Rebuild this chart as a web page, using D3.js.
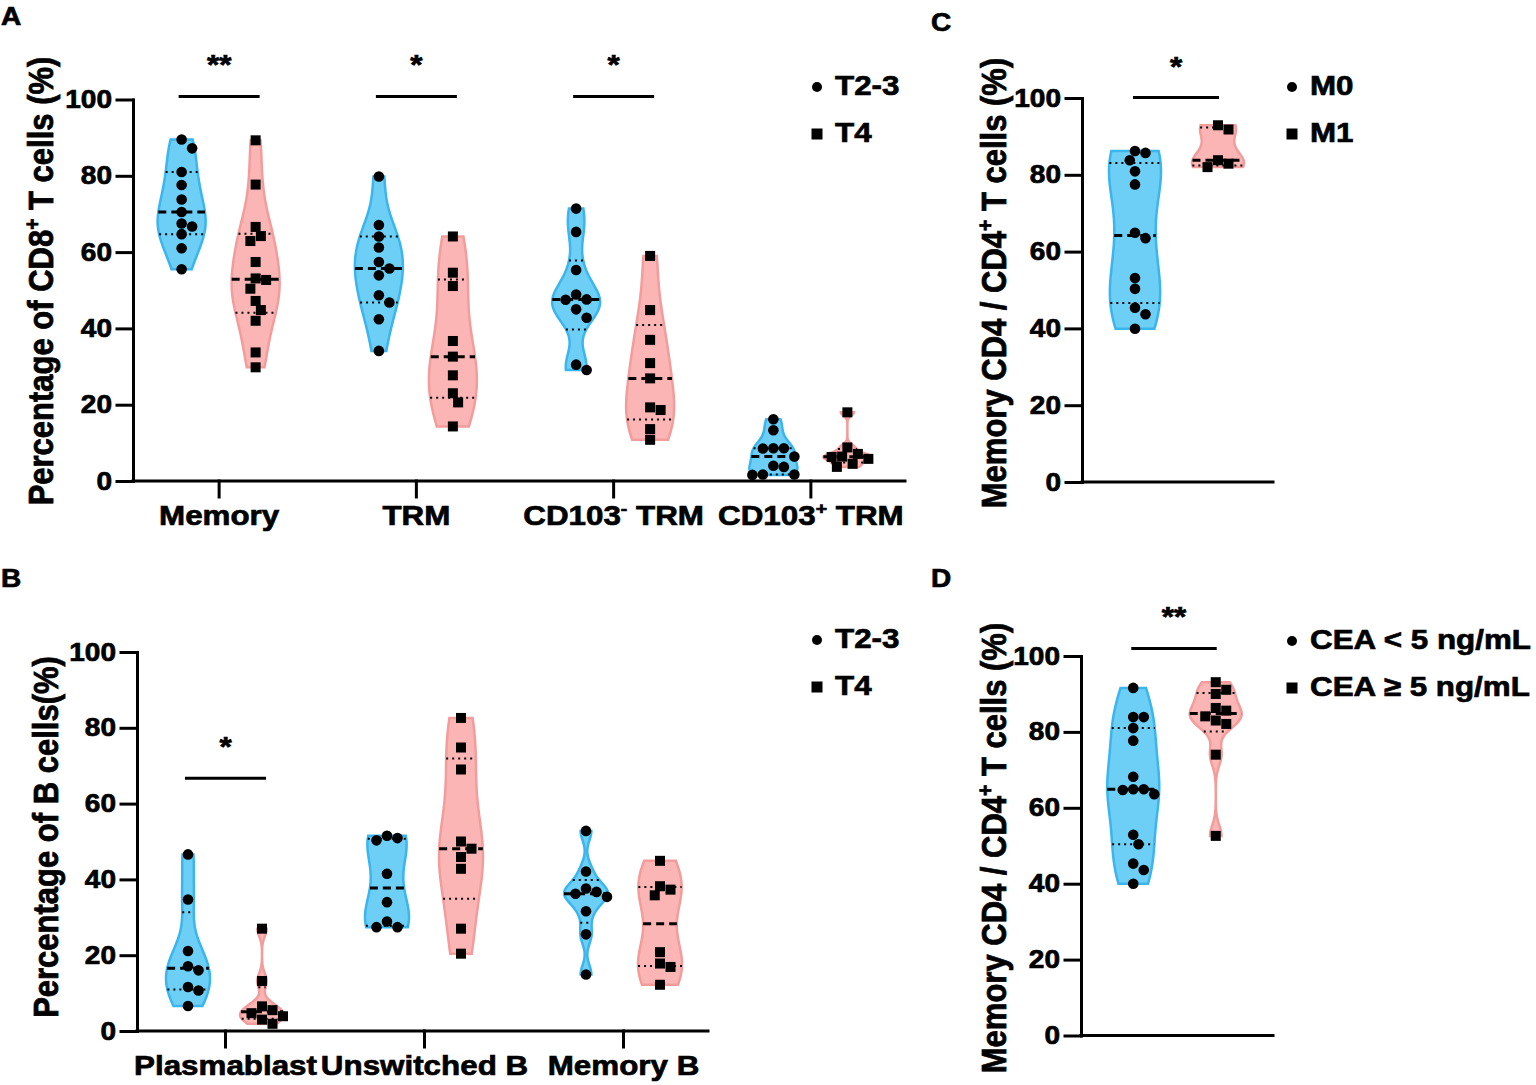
<!DOCTYPE html>
<html>
<head>
<meta charset="utf-8">
<script src="https://cdn.jsdelivr.net/npm/d3@7"></script>
<style>
  body { margin: 0; background: #fff; }
  svg { display: block; }
  text { font-family: "Liberation Sans", Arial, sans-serif; font-weight: bold; fill: #000; stroke: #000; stroke-width: 0.7px; white-space: pre; }
</style>
</head>
<body>
<svg id="fig" width="1536" height="1085"></svg>
<script>
// ---- data ----
const yTicks = [0, 20, 40, 60, 80, 100]

// A: CD8+ T cells by T stage
const catsA = ["Memory", "TRM", "CD103- TRM", "CD103+ TRM"]
const groupsA = ["T2-3", "T4"]
const aT23 = [
	[89.5, 87.2, 81.0, 77.6, 73.8, 70.5, 67.5, 66.7, 64.7, 61.0, 55.5],
	[79.8, 67.1, 64.1, 61.2, 57.4, 55.7, 53.9, 48.7, 46.8, 42.4, 34.1],
	[71.4, 65.3, 55.3, 48.9, 47.6, 47.5, 45.0, 42.8, 30.5, 29.1],
	[16.2, 13.3, 8.6, 8.6, 8.5, 6.4, 4.0, 3.7, 1.7, 1.7, 1.6]
]
const aT4 = [
	[89.3, 77.7, 66.6, 64.2, 62.9, 57.4, 53.1, 52.7, 50.4, 47.2, 44.8, 42.0, 33.7, 29.8],
	[64.1, 54.6, 51.1, 36.7, 32.6, 27.7, 23.0, 20.6, 14.3],
	[59.0, 44.8, 37.0, 30.9, 26.9, 19.3, 18.6, 13.6, 10.8],
	[18.0, 8.8, 7.1, 6.4, 6.3, 5.8, 4.5, 3.7]
]
const sigA = ["**", "*", "*", null]

// B: B cells by T stage
const catsB = ["Plasmablast", "Unswitched B", "Memory B"]
const groupsB = ["T2-3", "T4"]
const bT23 = [
	[46.6, 34.7, 21.1, 17.1, 16.0, 11.6, 10.7, 6.6],
	[51.5, 50.9, 50.3, 41.5, 34.0, 28.9, 27.4, 27.4],
	[52.8, 42.1, 37.6, 36.7, 36.2, 35.4, 31.6, 25.5, 14.9]
]
const bT4 = [
	[27.0, 13.2, 6.5, 5.5, 4.7, 3.9, 3.0, 1.9],
	[82.6, 74.8, 69.0, 50.0, 48.1, 45.9, 42.8, 27.0, 20.4],
	[44.9, 38.2, 37.3, 35.8, 20.8, 17.8, 16.9, 12.2]
]
const sigB = ["*", null, null]

// C: memory CD4 by M stage
const groupsC = ["M0", "M1"]
const cM0 = [86.2, 85.7, 83.8, 80.9, 77.5, 64.9, 63.5, 53.1, 50.3, 45.4, 43.7, 39.9]
const cM1 = [92.9, 91.8, 83.8, 82.9, 82.0]

// D: memory CD4 by CEA level
const groupsD = ["CEA < 5 ng/mL", "CEA ≥ 5 ng/mL"]
const dLow = [91.6, 83.9, 83.9, 81.0, 77.7, 68.2, 64.9, 64.9, 64.7, 63.6, 52.9, 50.4, 45.3, 43.6, 40.0]
const dHigh = [93.1, 91.1, 90.0, 86.3, 85.6, 84.1, 83.0, 82.1, 74.0, 52.6]

// ---- drawing ----
const svg = d3.select("#fig")
const SX = 1.12   // the source figure is a bit wide: stretch text horizontally
const colors = [
	{ fill: "#6dcff6", stroke: "#3ab5ee", shape: "circle" },
	{ fill: "#fbb5b5", stroke: "#f39c9c", shape: "square" }
]

// text with "+"/"-" after a digit put in superscript
function richText(t, str, size) {
	t.text(null)
	const parts = str.split(/(?<=\d)([+-])(?=\s)/)
	parts.forEach((s, i) => {
		if (i % 2) {
			t.append("tspan").attr("dy", -size * 0.38).style("font-size", (size * 0.62) + "px").text(s)
		} else {
			const ts = t.append("tspan").text(s)
			if (i > 0) ts.attr("dy", size * 0.38)
		}
	})
}

function label(g, x, y, str, size, anchor, rotate) {
	const t = g.append("text")
		.attr("transform", `translate(${x},${y}) scale(${SX},1)` + (rotate ? " rotate(-90)" : ""))
		.attr("text-anchor", anchor || "start")
		.style("font-size", size + "px")
	richText(t, str, size)
	return t
}

// quantile, (n+1) positions like Prism
function quart(sorted, p) {
	const n = sorted.length, pos = p * (n + 1)
	if (pos <= 1) return sorted[0]
	if (pos >= n) return sorted[n - 1]
	const i = Math.floor(pos)
	return sorted[i - 1] + (pos - i) * (sorted[i] - sorted[i - 1])
}

function kde(vals) {
	const s = vals.slice().sort(d3.ascending)
	const sd = d3.deviation(s)
	const iqr = (d3.quantile(s, 0.75) - d3.quantile(s, 0.25)) / 1.34
	const h = 0.9 * Math.min(sd, iqr > 0 ? iqr : sd) * Math.pow(s.length, -0.2)
	return v => d3.mean(s, x => Math.exp(-0.5 * ((v - x) / h) ** 2)) / h
}

function swarm(vals, y, d) {
	const pts = vals.map(v => ({ v, y: y(v) })).sort((a, b) => a.y - b.y)
	const placed = []
	pts.forEach(p => {
		for (let k = 0; k < 40; k++) {
			const off = (k % 2 ? 1 : -1) * Math.ceil(k / 2) * d / 2
			if (placed.every(q => Math.hypot(q.dx - off, q.y - p.y) >= d)) { p.dx = off; break }
		}
		placed.push(p)
	})
	return placed
}

function violin(g, vals, cx, y, hw, col) {
	const dens = kde(vals)
	const lo = d3.min(vals), hi = d3.max(vals)
	const samples = d3.range(0, 81).map(i => lo + (hi - lo) * i / 80)
	const maxD = d3.max(samples, dens)
	const w = v => dens(v) / maxD * hw
	g.append("path")
		.datum(samples)
		.attr("d", d3.area().curve(d3.curveBasis).y(v => y(v)).x0(v => cx - w(v)).x1(v => cx + w(v)))
		.attr("fill", col.fill)
		.attr("stroke", col.stroke)
		.attr("stroke-width", 2.5)

	const s = vals.slice().sort(d3.ascending)
	const lines = [
		{ v: quart(s, 0.5), dash: "8,5", sw: 3 },
		{ v: quart(s, 0.25), dash: "2,4", sw: 2 },
		{ v: quart(s, 0.75), dash: "2,4", sw: 2 }
	]
	g.selectAll(null).data(lines).enter().append("line")
		.attr("x1", d => cx - w(d.v)).attr("x2", d => cx + w(d.v))
		.attr("y1", d => y(d.v)).attr("y2", d => y(d.v))
		.attr("stroke", "#000")
		.attr("stroke-width", d => d.sw)
		.attr("stroke-dasharray", d => d.dash)

	const pts = swarm(vals, y, 10.5)
	if (col.shape === "circle") {
		g.selectAll(null).data(pts).enter().append("circle")
			.attr("cx", d => cx + d.dx).attr("cy", d => d.y).attr("r", 5.3)
	} else {
		g.selectAll(null).data(pts).enter().append("rect")
			.attr("x", d => cx + d.dx - 5).attr("y", d => d.y - 5)
			.attr("width", 10).attr("height", 10)
	}
}

function drawPanel(p) {
	const g = svg.append("g")
	const y = d3.scaleLinear().domain([0, 100]).range(p.yRange)

	const yAx = g.append("g").attr("transform", `translate(${p.axisX},0)`)
		.call(d3.axisLeft(y).tickValues(yTicks).tickSize(16).tickSizeOuter(0).tickPadding(5))
	yAx.selectAll(".tick text")
		.attr("x", -21 / SX)
		.attr("transform", `scale(${SX},1)`)
		.style("font-size", "25px")

	const xAx = g.append("g").attr("transform", `translate(0,${y(0)})`)
		.call(d3.axisBottom(p.x).tickSize(16).tickSizeOuter(0).tickPadding(8))
	if (p.cats) {
		xAx.selectAll(".tick text")
			.attr("transform", `scale(${SX},1)`)
			.style("font-size", "28px")
			.each(function (d) { richText(d3.select(this), d, 28) })
	} else {
		xAx.selectAll(".tick").remove()
	}
	xAx.select(".domain").attr("d", `M${p.axisX},0H${p.axisEnd}`)

	g.selectAll(".domain, .tick line")
		.attr("stroke", "#000").attr("stroke-width", 3).attr("stroke-linecap", "square")

	// violins
	p.violins.forEach(v => violin(g, v.vals, v.cx, y, p.hw, colors[v.gi]))

	// significance bars
	p.sigs.forEach(s => {
		if (!s.text) return
		const yy = y(p.sigVal)
		g.append("line")
			.attr("x1", s.x1).attr("x2", s.x2).attr("y1", yy).attr("y2", yy)
			.attr("stroke", "#000").attr("stroke-width", 3)
		label(g, (s.x1 + s.x2) / 2, yy - 22, s.text, 28, "middle")
	})

	// legend
	p.groups.forEach((name, i) => {
		const ly = p.leg[1] + i * 47
		if (colors[i].shape === "circle") {
			g.append("circle").attr("cx", p.leg[0]).attr("cy", ly).attr("r", 5)
		} else {
			g.append("rect").attr("x", p.leg[0] - 5.5).attr("y", ly - 5.5).attr("width", 11).attr("height", 11)
		}
		label(g, p.leg[0] + 18, ly + 8, name, 28, "start")
	})

	label(g, p.title[0], p.title[1], p.titleText, 31, "middle", true)
	label(g, p.letter[0], p.letter[1], p.letterText, 25, "start")
}

// grouped panels (A, B)
function grouped(cats, groups, series, sig, xr, cfg) {
	const x = d3.scalePoint().domain(cats).range(xr).padding(0.5)
	const off = d3.scalePoint().domain(groups).range([-37, 37])
	const violins = []
	cats.forEach((c, ci) => groups.forEach((gname, gi) => {
		violins.push({ vals: series[gi][ci], cx: x(c) + off(gname), gi })
	}))
	const sigs = cats.map((c, ci) => ({ text: sig[ci], x1: x(c) + off(groups[0]) - 3, x2: x(c) + off(groups[1]) + 4 }))
	drawPanel(Object.assign({ x, cats, groups, violins, sigs }, cfg))
}

// two-group panels (C, D)
function pair(groups, series, sig, xr, cfg) {
	const x = d3.scalePoint().domain(groups).range(xr).padding(0.5)
	const violins = groups.map((gname, gi) => ({ vals: series[gi], cx: x(gname), gi }))
	const sigs = [{ text: sig, x1: x(groups[0]) - 2, x2: x(groups[1]) + 1 }]
	drawPanel(Object.assign({ x, cats: null, groups, violins, sigs }, cfg))
}

grouped(catsA, groupsA, [aT23, aT4], sigA, [120, 909], {
	yRange: [481, 99.5], axisX: 133, axisEnd: 905, hw: 24, sigVal: 100.8,
	leg: [817, 87], title: [53, 281], titleText: "Percentage of CD8+ T cells (%)",
	letter: [1, 25], letterText: "A"
})

grouped(catsB, groupsB, [bT23, bT4], sigB, [125.5, 722.5], {
	yRange: [1031, 652], axisX: 137, axisEnd: 708, hw: 22, sigVal: 66.7,
	leg: [817, 640], title: [58, 837], titleText: "Percentage of B cells(%)",
	letter: [1, 587], letterText: "B"
})

pair(groupsC, [cM0, cM1], "*", [1093.5, 1259.5], {
	yRange: [482, 98], axisX: 1082, axisEnd: 1273, hw: 26, sigVal: 100.1,
	leg: [1292, 87], title: [1006, 283], titleText: "Memory CD4 / CD4+ T cells (%)",
	letter: [931, 31], letterText: "C"
})

pair(groupsD, [dLow, dHigh], "**", [1092, 1257], {
	yRange: [1035.5, 656], axisX: 1081, axisEnd: 1273, hw: 26, sigVal: 102,
	leg: [1292, 641], title: [1006, 848], titleText: "Memory CD4 / CD4+ T cells (%)",
	letter: [931, 587], letterText: "D"
})
</script>
</body>
</html>
